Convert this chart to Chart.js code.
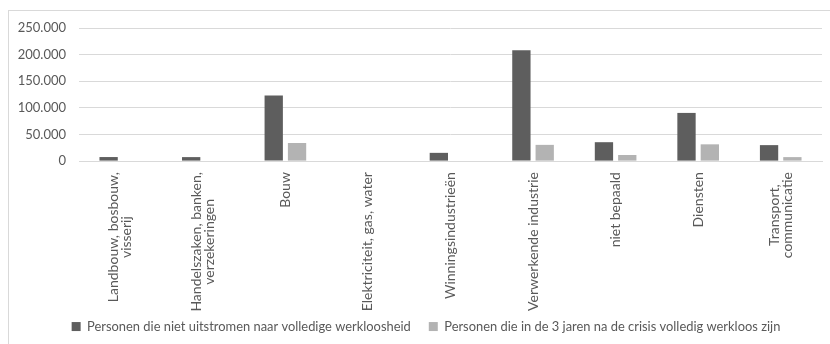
<!DOCTYPE html>
<html>
<head>
<meta charset="utf-8">
<script src="https://cdn.jsdelivr.net/npm/chart.js@4/dist/chart.umd.min.js"></script>
<style>
  html, body { margin: 0; padding: 0; background: #ffffff; overflow: hidden; width: 830px; height: 344px; }
  #frame { position: absolute; left: 8px; top: 10px; width: 900px; height: 400px; border: 1px solid #d9d9d9; box-sizing: border-box; }
  #c { position: absolute; left: 0; top: 0; }
</style>
</head>
<body>
<div id="frame"></div>
<canvas id="c" width="830" height="344"></canvas>
<script>
const categories = [
  ["Landbouw, bosbouw,", "visserij"],
  ["Handelszaken, banken,", "verzekeringen"],
  ["Bouw"],
  ["Elektriciteit, gas, water"],
  ["Winningsindustrieën"],
  ["Verwerkende industrie"],
  ["niet bepaald"],
  ["Diensten"],
  ["Transport,", "communicatie"]
];
const seriesNames = [
  "Personen die niet uitstromen naar volledige werkloosheid",
  "Personen die in de 3 jaren na de crisis volledig werkloos zijn"
];
const nietUitstromen = [7600, 7500, 123000, 0, 15500, 208000, 35500, 90500, 30000];
const volledigWerkloos = [0, 0, 34000, 0, 0, 30500, 11500, 31500, 7500];
const yTicks = [0, 50000, 100000, 150000, 200000, 250000];

const FONT = "Lato, 'Open Sans', sans-serif";
const TEXT = "#595959";

function fmt(v) {
  return String(v).replace(/\B(?=(\d{3})+(?!\d))/g, ".");
}

const xLabelPlugin = {
  id: "xLabels",
  afterLayout(chart) {
    // centre the legend like the reference (slightly right of canvas centre)
    if (chart.legend) { chart.legend.left += 15; chart.legend.right += 15; }
  },
  afterDraw(chart) {
    const ctx = chart.ctx;
    const xs = chart.scales.x;
    const top = xs.top + 11;
    const lh = 13;
    ctx.save();
    ctx.font = "14px " + FONT;
    ctx.fillStyle = TEXT;
    ctx.textAlign = "center";
    ctx.textBaseline = "middle";
    categories.forEach((lines, i) => {
      const px = xs.getPixelForValue(i);
      const w = Math.max(...lines.map(l => ctx.measureText(l).width));
      ctx.save();
      ctx.translate(px, top);
      ctx.rotate(-Math.PI / 2);
      lines.forEach((l, k) => {
        const yo = (k - (lines.length - 1) / 2) * lh;
        ctx.fillText(l, -w / 2, yo);
      });
      ctx.restore();
    });
    ctx.restore();
  }
};

new Chart(document.getElementById("c"), {
  type: "bar",
  data: {
    labels: categories,
    datasets: [
      { label: seriesNames[0], data: nietUitstromen, backgroundColor: "#5e5e5e",
        categoryPercentage: 0.565, barPercentage: 0.785 },
      { label: seriesNames[1], data: volledigWerkloos, backgroundColor: "#b3b3b3",
        categoryPercentage: 0.565, barPercentage: 0.785 }
    ]
  },
  options: {
    responsive: false,
    animation: false,
    devicePixelRatio: 1,
    layout: { padding: { left: 0, right: 8, top: 28, bottom: 1 } },
    plugins: {
      tooltip: { enabled: false },
      legend: {
        position: "bottom",
        labels: {
          boxWidth: 9, boxHeight: 9, padding: 18,
          color: TEXT,
          font: { family: FONT, size: 12.9 }
        }
      }
    },
    scales: {
      x: {
        grid: { display: false, drawTicks: false },
        border: { display: true, color: "#d9d9d9", width: 1 },
        ticks: { display: false },
        afterFit(scale) { scale.height = 141; }
      },
      y: {
        min: 0, max: 250000,
        afterBuildTicks(scale) { scale.ticks = yTicks.map(v => ({ value: v })); },
        afterFit(scale) { scale.width = 79; },
        grid: { color: "#d9d9d9", lineWidth: 1, drawTicks: false },
        border: { display: false },
        ticks: {
          padding: 13,
          color: TEXT,
          font: { family: FONT, size: 13 },
          callback: v => fmt(v)
        }
      }
    }
  },
  plugins: [xLabelPlugin]
});
</script>
</body>
</html>
